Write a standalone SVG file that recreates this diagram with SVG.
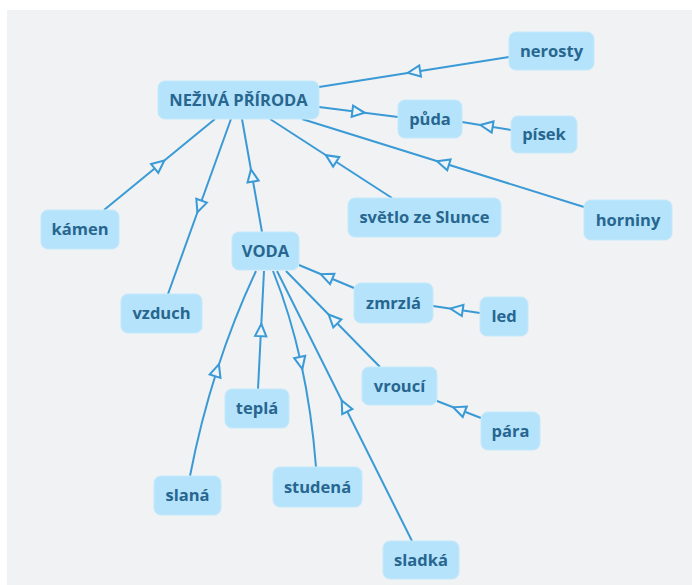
<svg xmlns="http://www.w3.org/2000/svg" width="692" height="585" viewBox="0 0 692 585">
<style>
.bg{fill:#f1f2f4}
.node rect{fill:#b5e3fb;stroke:#c4e9fb;stroke-width:1}
.node text{font-family:"Open Sans",Lato,"Liberation Sans",sans-serif;font-weight:700;font-size:16.5px;fill:#27668f;text-anchor:middle}
.edge{fill:none;stroke:#3a9ad6;stroke-width:2;marker-mid:url(#tri)}
</style>
<defs>
<marker id="tri" markerUnits="userSpaceOnUse" markerWidth="18" markerHeight="18" viewBox="-2 -2 16 14" refX="5.5" refY="5" orient="auto">
<path d="M0,0 L11,5 L0,10 z" fill="#eef4f8" stroke="#3a9ad6" stroke-width="1.8" stroke-linejoin="miter"/>
</marker>
</defs>
<rect x="0" y="0" width="692" height="585" fill="#ffffff"/>
<rect class="bg" x="7" y="10" width="685" height="575"/>
<g id="connectors">
<path class="edge" d="M509,57 L414,72 L319,87"/>
<path class="edge" d="M319,107 L358.5,112 L398,117"/>
<path class="edge" d="M511,130 L486.5,126 L462,122"/>
<path class="edge" d="M104,210 L159.5,164.5 L215,119"/>
<path class="edge" d="M231,119 L199.5,206.5 L168,294"/>
<path class="edge" d="M262,232 L252,175.5 L242,119"/>
<path class="edge" d="M392,198 L331,158.5 L270,119"/>
<path class="edge" d="M584,207 L443,163 L302,119"/>
<path class="edge" d="M354,288 L326.5,276.5 L299,265"/>
<path class="edge" d="M480,313 L456.5,309.5 L433,306"/>
<path class="edge" d="M380,367 L333,319 L286,271"/>
<path class="edge" d="M481,418 L459,409.5 L437,401"/>
<path class="edge" d="M258,389 L261,330 L264,271"/>
<path class="edge" d="M190,476 Q200.5,421.5 217,370.25 Q233.5,319 256,271"/>
<path class="edge" d="M273,271 Q290.25,314 301,363 Q311.75,412 316,467"/>
<path class="edge" d="M412,541 L344.5,406 L277,271"/>
</g>
<g id="n-nezivapriroda" class="node"><rect x="158" y="81" width="161" height="38" rx="7"/><text x="238.5" y="105.5">NEŽIVÁ PŘÍRODA</text></g>
<g id="n-nerosty" class="node"><rect x="509" y="32" width="85" height="38" rx="7"/><text x="551.5" y="56.5">nerosty</text></g>
<g id="n-puda" class="node"><rect x="398" y="100" width="64" height="38" rx="7"/><text x="430" y="124.5">půda</text></g>
<g id="n-pisek" class="node"><rect x="511" y="116" width="66" height="37" rx="7"/><text x="544" y="140">písek</text></g>
<g id="n-kamen" class="node"><rect x="41" y="210" width="78" height="39" rx="7"/><text x="80" y="235">kámen</text></g>
<g id="n-vzduch" class="node"><rect x="121" y="294" width="81" height="39" rx="7"/><text x="161.5" y="319">vzduch</text></g>
<g id="n-voda" class="node"><rect x="232" y="232" width="67" height="38" rx="7"/><text x="265.5" y="256.5">VODA</text></g>
<g id="n-svetlo" class="node"><rect x="348" y="198" width="153" height="39" rx="7"/><text x="424.5" y="223">světlo ze Slunce</text></g>
<g id="n-horniny" class="node"><rect x="584" y="200" width="88" height="40" rx="7"/><text x="628" y="225.5">horniny</text></g>
<g id="n-zmrzla" class="node"><rect x="354" y="283" width="79" height="40" rx="7"/><text x="393.5" y="308.5">zmrzlá</text></g>
<g id="n-led" class="node"><rect x="480" y="297" width="48" height="39" rx="7"/><text x="504" y="322">led</text></g>
<g id="n-vrouci" class="node"><rect x="362" y="367" width="75" height="38" rx="7"/><text x="399.5" y="391.5">vroucí</text></g>
<g id="n-para" class="node"><rect x="481" y="412" width="59" height="38" rx="7"/><text x="510.5" y="436.5">pára</text></g>
<g id="n-tepla" class="node"><rect x="225" y="389" width="64" height="39" rx="7"/><text x="257" y="414">teplá</text></g>
<g id="n-slana" class="node"><rect x="154" y="476" width="67" height="39" rx="7"/><text x="187.5" y="501">slaná</text></g>
<g id="n-studena" class="node"><rect x="273" y="467" width="89" height="40" rx="7"/><text x="317.5" y="492.5">studená</text></g>
<g id="n-sladka" class="node"><rect x="383" y="541" width="76" height="38" rx="7"/><text x="421" y="565.5">sladká</text></g>
</svg>
